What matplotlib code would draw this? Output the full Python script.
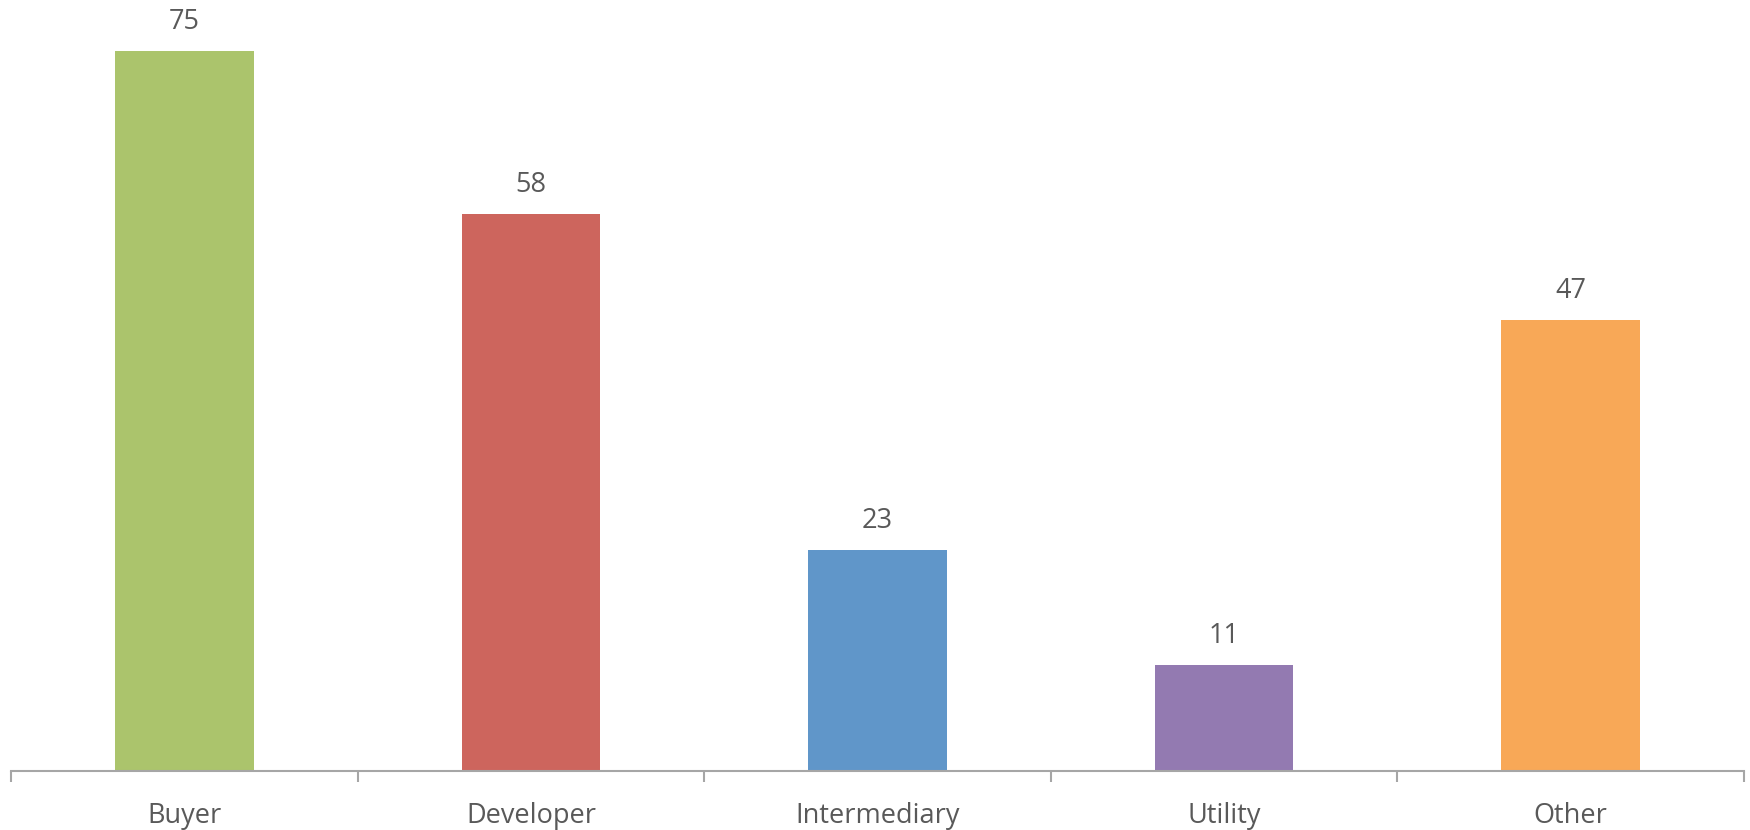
import matplotlib.pyplot as plt
import numpy as np

# data
categories = ["Buyer", "Developer", "Intermediary", "Utility", "Other"]
counts = [75, 58, 23, 11, 47]
bar_colors = ["#ABC46C", "#CD655D", "#6096C9", "#937AB1", "#F8A857"]

plt.rcParams['font.family'] = ['Open Sans', 'DejaVu Sans']

fig = plt.figure(figsize=(17.5, 8.3), dpi=100)
ax = fig.add_axes([11 / 1750, 59 / 830, 1733 / 1750, 771 / 830])

x = np.arange(len(categories))
bars = ax.bar(x, counts, width=0.4, color=bar_colors, zorder=2)

for xi, v in zip(x, counts):
    ax.annotate(str(v), (xi, v), xytext=(0, 21), textcoords='offset points',
                ha='center', va='center', fontsize=19.5, color='#595959')

ax.set_xlim(-0.5, len(categories) - 0.5)
ax.set_ylim(0, 80.3)

for s in ['top', 'right', 'left']:
    ax.spines[s].set_visible(False)
ax.spines['bottom'].set_color('#A6A6A6')
ax.spines['bottom'].set_linewidth(1.5)

ax.set_yticks([])
ax.set_xticks(x)
ax.set_xticklabels(categories, fontsize=19.5, color='#595959')
ax.tick_params(axis='x', which='major', length=0, pad=22)
ax.set_xticks(np.arange(-0.5, len(categories)), minor=True)
ax.tick_params(axis='x', which='minor', length=8, width=1.5, color='#A6A6A6', direction='out')

fig.savefig('out.png', dpi=100)
